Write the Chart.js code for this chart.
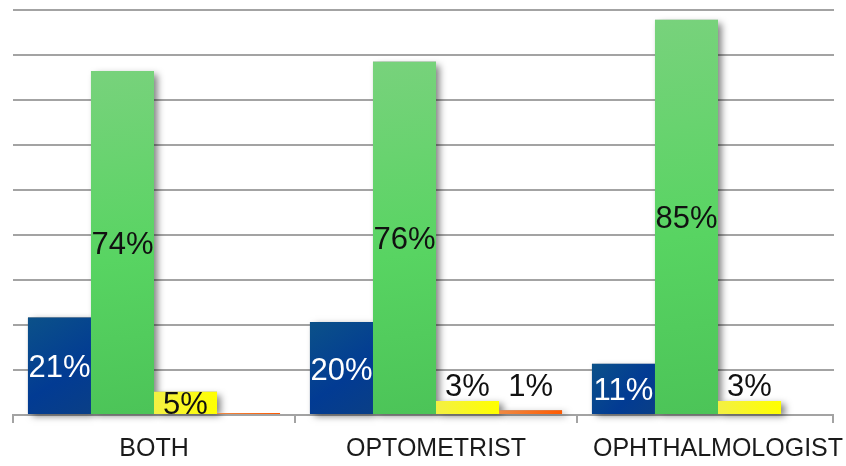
<!DOCTYPE html>
<html lang="en">
  <head>
    <meta charset="utf-8"/>
    <script src="https://cdn.jsdelivr.net/npm/chart.js@4.4.1/dist/chart.umd.min.js"></script>
    <style>
      html, body { margin: 0; padding: 0; background: #fff; overflow: hidden; }
      #box { width: 860px; height: 475px; }
    </style>
  </head>
  <body>
    <div id="box"><canvas id="bars"></canvas></div>

<script>
// values (percent)
const categories = ['BOTH', 'OPTOMETRIST', 'OPHTHALMOLOGIST'];
const blueValues   = [21, 20, 11];
const greenValues  = [74, 76, 85];
const yellowValues = [5, 3, 3];
const orangeValues = [0, 1, null];

// gridlines are 9 equal steps, not round 10s
const gridStep = 9.68;
const gridCount = 9;

function barBox(ctx) {
    const chart = ctx.chart;
    const meta = chart.getDatasetMeta(ctx.datasetIndex);
    const el = meta.data[ctx.dataIndex];
    if (!el || el.x === undefined || isNaN(el.x)) return null;
    return el.getProps(['x', 'y', 'base', 'width'], true);
}

function blueFill(ctx) {
    const b = barBox(ctx);
    if (!b) return '#044488';
    const g = ctx.chart.ctx.createLinearGradient(b.x - b.width/2, b.y, b.x + b.width/2, b.base);
    g.addColorStop(0, '#0b5189');
    g.addColorStop(0.6, '#023b93');
    g.addColorStop(1, '#0a3f86');
    return g;
}
function greenFill(ctx) {
    const b = barBox(ctx);
    if (!b) return '#5fcf68';
    const g = ctx.chart.ctx.createLinearGradient(b.x - b.width/2, b.y, b.x + b.width/4, b.base);
    g.addColorStop(0, '#78d27c');
    g.addColorStop(0.55, '#58d462');
    g.addColorStop(1, '#4cc458');
    return g;
}
function yellowFill(ctx) {
    const b = barBox(ctx);
    if (!b) return '#f8f520';
    const g = ctx.chart.ctx.createLinearGradient(b.x - b.width/2, 0, b.x + b.width/2, 0);
    g.addColorStop(0, '#f3f044');
    g.addColorStop(1, '#ffff00');
    return g;
}
function orangeFill(ctx) {
    const b = barBox(ctx);
    if (!b) return '#f77030';
    const g = ctx.chart.ctx.createLinearGradient(b.x - b.width/2, 0, b.x + b.width/2, 0);
    g.addColorStop(0, '#ee8a44');
    g.addColorStop(1, '#ff5a00');
    return g;
}

// soft drop shadow, painted under all bars first
const barShadows = {
    id: 'barShadows',
    beforeDatasetsDraw(chart) {
        const c = chart.ctx;
        const area = chart.chartArea;
        c.save();
        // the original plot frame stops short of the last group
        c.fillStyle = '#ffffff';
        c.fillRect(area.right - 25, 0, 40, area.bottom + 10);
        c.strokeStyle = '#a3a3a3';
        c.lineWidth = 2;
        c.beginPath();
        c.moveTo(area.right - 26, area.bottom);
        c.lineTo(area.right - 26, area.bottom + 8);
        c.stroke();

        c.shadowColor = 'rgba(0,0,0,0.5)';
        c.shadowBlur = 7;
        c.shadowOffsetX = 4;
        c.shadowOffsetY = 3;
        c.fillStyle = '#888';
        chart.data.datasets.forEach((ds, i) => {
            chart.getDatasetMeta(i).data.forEach((el, j) => {
                if (ds.data[j] === null) return;
                const p = el.getProps(['x', 'y', 'base', 'width'], true);
                const top = Math.min(p.y, p.base);
                const h = Math.abs(p.base - p.y);
                if (h < 3) return;
                c.fillRect(p.x - p.width/2, top, p.width, h - 1);
            });
        });
        c.restore();
    }
};

// percent labels, centred in the bar or sitting above short ones
const barLabels = {
    id: 'barLabels',
    afterDatasetsDraw(chart) {
        const c = chart.ctx;
        c.save();
        c.font = '31px "Liberation Sans", Arial, sans-serif';
        c.textAlign = 'center';
        c.textBaseline = 'middle';
        chart.data.datasets.forEach((ds, i) => {
            chart.getDatasetMeta(i).data.forEach((el, j) => {
                const v = ds.data[j];
                if (v === null || v === 0) return;
                const p = el.getProps(['x', 'y', 'base'], true);
                const h = p.base - p.y;
                const y = h >= 18 ? (p.y + p.base) / 2 : p.base - 30;
                c.fillStyle = i === 0 ? '#ffffff' : '#111111';
                c.fillText(v + '%', p.x, y + 3);
            });
        });
        c.restore();
    }
};

const chart = new Chart(document.getElementById('bars'), {
    type: 'bar',
    data: {
        labels: categories,
        datasets: [
            { label: 'blue',   data: blueValues,   backgroundColor: blueFill },
            { label: 'green',  data: greenValues,  backgroundColor: greenFill },
            { label: 'yellow', data: yellowValues, backgroundColor: yellowFill },
            { label: 'orange', data: orangeValues, backgroundColor: orangeFill, minBarLength: 2 },
        ]
    },
    options: {
        responsive: true,
        maintainAspectRatio: false,
        animation: false,
        layout: { padding: { top: 10, left: 13, right: 1, bottom: 0 } },
        datasets: { bar: { categoryPercentage: 0.894, barPercentage: 1, borderWidth: 0 } },
        plugins: {
            legend: { display: false },
            tooltip: { enabled: false },
        },
        scales: {
            x: {
                grid: {
                    display: true,
                    drawOnChartArea: false,
                    drawTicks: true,
                    tickLength: 8,
                    color: '#a3a3a3',
                    lineWidth: 2,
                    offset: true,
                },
                border: { display: true, color: '#a3a3a3', width: 2 },
                ticks: {
                    color: '#1a1a1a',
                    padding: 11,
                    font: { family: '"Liberation Sans", Arial, sans-serif', size: 25 },
                    maxRotation: 0,
                    autoSkip: false,
                },
            },
            y: {
                min: 0,
                max: gridStep * gridCount,
                afterBuildTicks(scale) {
                    const ticks = [];
                    for (let k = 0; k <= gridCount; k++) ticks.push({ value: k * gridStep });
                    scale.ticks = ticks;
                },
                grid: { color: '#a3a3a3', lineWidth: 2, drawTicks: false },
                border: { display: false },
                ticks: { display: false },
            },
        },
    },
    plugins: [barShadows, barLabels],
});
// second pass so the gradients can see where each bar sits
chart.update();
</script>
  </body>
</html>
